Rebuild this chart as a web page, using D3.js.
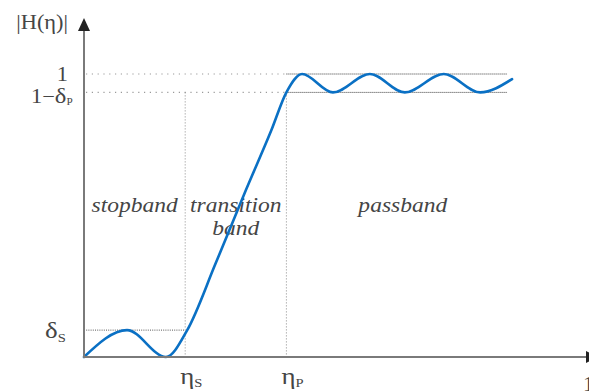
<!DOCTYPE html>
<html>
<head>
<meta charset="utf-8">
<script src="https://cdn.jsdelivr.net/npm/d3@7"></script>
<style>
  html, body { margin: 0; padding: 0; background: #fff; }
  svg { display: block; }
  text { font-family: "Liberation Serif", "Times New Roman", Times, serif; }
</style>
</head>
<body>
<svg id="chart" width="589" height="392"></svg>
<script>
// Magnitude response |H(η)| with stopband, transition band and passband.
// Normalised frequency η and magnitude samples of the response curve.
const eta = [0, 0.085, 0.162, 0.204, 0.26, 0.32, 0.37, 0.40, 0.431, 0.492, 0.565, 0.634, 0.711, 0.783, 0.846];
const mag = [0, 0.095, 0, 0.095, 0.33, 0.59, 0.80, 0.935, 1.0, 0.935, 1.0, 0.935, 1.0, 0.935, 0.982];

// Band edges on the frequency axis
const edgeValues = [0.2, 0.4];
const edgeSubs = ["S", "P"];

// Tolerance levels on the magnitude axis
const deltaP = 0.065;
const deltaS = 0.095;
const passEnd = 0.836;

// Region names
const bandNames = [["stopband"], ["transition", "band"], ["passband"]];
const bandCenters = [0.1, 0.3, 0.63];

const svg = d3.select("#chart");
const x = d3.scaleLinear().domain([0, 1]).range([84, 590]);
const y = d3.scaleLinear().domain([0, 1]).range([357, 74]);

const stretch = 1.12;

// Text helper: slightly widened serif text anchored at (px, py)
function label(px, py, anchor, size, style) {
  const g = svg.append("g").attr("transform", `translate(${px},${py}) scale(${stretch},1)`);
  return g.append("text")
    .attr("text-anchor", anchor)
    .attr("font-size", size)
    .attr("font-style", style || "normal")
    .attr("fill", "#454545");
}

// --- guide lines ---
const guides = svg.append("g").attr("fill", "none");

// sparse dotted levels from the axis to the passband edge
[1, 1 - deltaP].forEach(v => {
  guides.append("line")
    .attr("x1", x(0) + 2).attr("x2", x(edgeValues[1]))
    .attr("y1", y(v)).attr("y2", y(v))
    .attr("stroke", "#9a9a9a").attr("stroke-width", 1.2)
    .attr("stroke-dasharray", "1.2,4.6");
});

// dense dotted ripple bounds across the passband
[1, 1 - deltaP].forEach(v => {
  guides.append("line")
    .attr("x1", x(edgeValues[1])).attr("x2", x(passEnd))
    .attr("y1", y(v)).attr("y2", y(v))
    .attr("stroke", "#3a3a3a").attr("stroke-width", 1)
    .attr("stroke-dasharray", "1,1");
});

// stopband ripple bound
guides.append("line")
  .attr("x1", x(0)).attr("x2", x(edgeValues[0]))
  .attr("y1", y(deltaS)).attr("y2", y(deltaS))
  .attr("stroke", "#555").attr("stroke-width", 1)
  .attr("stroke-dasharray", "1,1.2");

// vertical band edges
edgeValues.forEach(v => {
  guides.append("line")
    .attr("x1", x(v)).attr("x2", x(v))
    .attr("y1", y(1 - deltaP)).attr("y2", y(0))
    .attr("stroke", "#8a8a8a").attr("stroke-width", 1)
    .attr("stroke-dasharray", "1,2");
});

// --- band names ---
bandNames.forEach((lines, i) => {
  lines.forEach((t, j) => {
    label(x(bandCenters[i]), 212 + j * 23, "middle", 21, "italic").text(t);
  });
});

// --- response curve ---
const line = d3.line()
  .x((d, i) => x(eta[i]))
  .y((d, i) => y(mag[i]))
  .curve(d3.curveMonotoneX);

svg.append("path")
  .datum(eta)
  .attr("d", line)
  .attr("fill", "none")
  .attr("stroke", "#0a70c4")
  .attr("stroke-width", 2.6)
  .attr("stroke-linecap", "round");

// --- axes ---
const axes = svg.append("g");
axes.append("line")
  .attr("x1", x(0)).attr("x2", x(0))
  .attr("y1", y(0) + 1).attr("y2", 28)
  .attr("stroke", "#7a7a7a").attr("stroke-width", 2);
axes.append("line")
  .attr("x1", x(0) - 1).attr("x2", 588)
  .attr("y1", y(0)).attr("y2", y(0))
  .attr("stroke", "#7a7a7a").attr("stroke-width", 2);
axes.append("path")
  .attr("d", `M${x(0)},18 L${x(0) - 6},31 L${x(0) + 6},31 Z`)
  .attr("fill", "#222");
axes.append("path")
  .attr("d", `M598,${y(0)} L586,${y(0) - 6} L586,${y(0) + 6} Z`)
  .attr("fill", "#222");

// --- axis labels ---
label(68, 29, "end", 20).text("|H(η)|");
label(68, y(1) + 7, "end", 20).text("1");

const lp = label(31, y(1 - deltaP) + 11, "start", 20);
lp.append("tspan").text("1−");
lp.append("tspan").attr("font-size", 22).text("δ");
lp.append("tspan").attr("font-size", 10).attr("dy", 2).text("P");

const ls = label(45, y(deltaS) + 8, "start", 24);
ls.append("tspan").text("δ");
ls.append("tspan").attr("font-size", 13).attr("dy", 4).text("S");

edgeValues.forEach((v, i) => {
  const t = label(x(v) - 5, 384, "start", 24);
  t.append("tspan").text("η");
  t.append("tspan").attr("font-size", 13).attr("dy", 3).text(edgeSubs[i]);
});

label(583, 391, "start", 20).text("1");
</script>
</body>
</html>
